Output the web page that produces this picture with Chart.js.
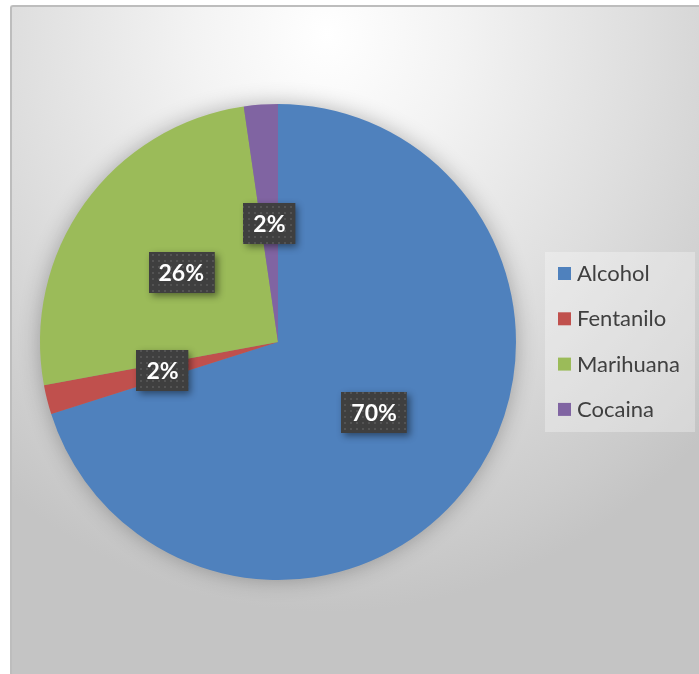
<!DOCTYPE html>
<html>
<head>
<meta charset="utf-8">
<script src="https://cdn.jsdelivr.net/npm/chart.js@4.4.0/dist/chart.umd.min.js"></script>
<style>
  html, body { margin: 0; padding: 0; background: #fff; }
  #wrap { position: relative; width: 699px; height: 674px; overflow: hidden; }
  #panel {
    position: absolute; left: 10px; top: 5px; width: 700px; height: 680px;
    border-top: 2px solid #bdbdbd; border-left: 2px solid #bdbdbd;
    border-top-left-radius: 3px;
    background: radial-gradient(ellipse 75% 85% at 45% 4%, #ffffff 0%, #f3f3f3 25%, #dedede 60%, #cbcbcb 90%, #c4c4c4 100%);
  }
  #chart { position: absolute; left: 0; top: 0; }
</style>
</head>
<body>
<div id="wrap">
  <div id="panel"></div>
  <canvas id="chart" width="699" height="674"></canvas>
</div>
<script>
// consumo de sustancias (porcentaje)
const labels = ['Alcohol', 'Fentanilo', 'Marihuana', 'Cocaina'];
const values = [70.1, 2.0, 25.6, 2.3];
const colors = ['#4F81BD', '#C0504D', '#9BBB59', '#8064A2'];

const FONT = 'Lato, "Open Sans", sans-serif';

// patron punteado para las etiquetas
function makePattern(ctx) {
  const c = document.createElement('canvas');
  c.width = 6; c.height = 6;
  const p = c.getContext('2d');
  p.fillStyle = '#3f3f3f';
  p.fillRect(0, 0, 6, 6);
  p.fillStyle = '#535353';
  p.fillRect(2, 2, 2, 2);
  return ctx.createPattern(c, 'repeat');
}

// sombra suave detras del pastel
const pieShadow = {
  id: 'pieShadow',
  beforeDatasetsDraw(chart) {
    const arc = chart.getDatasetMeta(0).data[0];
    if (!arc) return;
    const ctx = chart.ctx;
    ctx.save();
    ctx.shadowColor = 'rgba(0,0,0,0.3)';
    ctx.shadowBlur = 22;
    ctx.fillStyle = '#888';
    ctx.beginPath();
    ctx.arc(arc.x, arc.y, arc.outerRadius - 1, 0, Math.PI * 2);
    ctx.fill();
    ctx.restore();
  }
};

// etiquetas de porcentaje
const pctLabels = {
  id: 'pctLabels',
  afterDatasetsDraw(chart) {
    const ctx = chart.ctx;
    const data = chart.data.datasets[0].data;
    const total = data.reduce((a, b) => a + b, 0);
    const pattern = makePattern(ctx);
    ctx.save();
    ctx.font = 'bold 23px ' + FONT;
    ctx.textAlign = 'center';
    ctx.textBaseline = 'middle';
    chart.getDatasetMeta(0).data.forEach((arc, i) => {
      const p = arc.tooltipPosition();
      const txt = Math.round(data[i] / total * 100) + '%';
      const w = ctx.measureText(txt).width + 20;
      const h = 41;
      const x = Math.round(p.x - w / 2), y = Math.round(p.y - h / 2);
      ctx.save();
      ctx.shadowColor = 'rgba(0,0,0,0.45)';
      ctx.shadowBlur = 7;
      ctx.shadowOffsetX = 3;
      ctx.shadowOffsetY = 3;
      ctx.fillStyle = '#3f3f3f';
      ctx.fillRect(x, y, w, h);
      ctx.restore();
      ctx.fillStyle = pattern;
      ctx.fillRect(x, y, w, h);
      ctx.fillStyle = '#ffffff';
      ctx.fillText(txt, p.x, p.y + 1);
    });
    ctx.restore();
  }
};

// leyenda a la derecha
const sideLegend = {
  id: 'sideLegend',
  afterDraw(chart) {
    const ctx = chart.ctx;
    const bx = 545, by = 252, bw = 150, bh = 180;
    ctx.save();
    ctx.fillStyle = 'rgba(255,255,255,0.3)';
    ctx.fillRect(bx, by, bw, bh);
    ctx.font = '22px ' + FONT;
    ctx.textAlign = 'left';
    ctx.textBaseline = 'middle';
    chart.data.labels.forEach((lab, i) => {
      const cy = 273 + i * 45.3;
      ctx.fillStyle = chart.data.datasets[0].backgroundColor[i];
      ctx.fillRect(558, cy - 6, 13, 13);
      ctx.fillStyle = '#404040';
      ctx.fillText(lab, 577, cy + 1);
    });
    ctx.restore();
  }
};

new Chart(document.getElementById('chart'), {
  type: 'pie',
  data: {
    labels: labels,
    datasets: [{
      data: values,
      backgroundColor: colors,
      borderWidth: 0
    }]
  },
  options: {
    responsive: false,
    devicePixelRatio: 1,
    animation: false,
    events: [],
    layout: { padding: { left: 40, right: 183, top: 104, bottom: 94 } },
    plugins: {
      legend: { display: false },
      tooltip: { enabled: false }
    }
  },
  plugins: [pieShadow, pctLabels, sideLegend]
});
</script>
</body>
</html>
